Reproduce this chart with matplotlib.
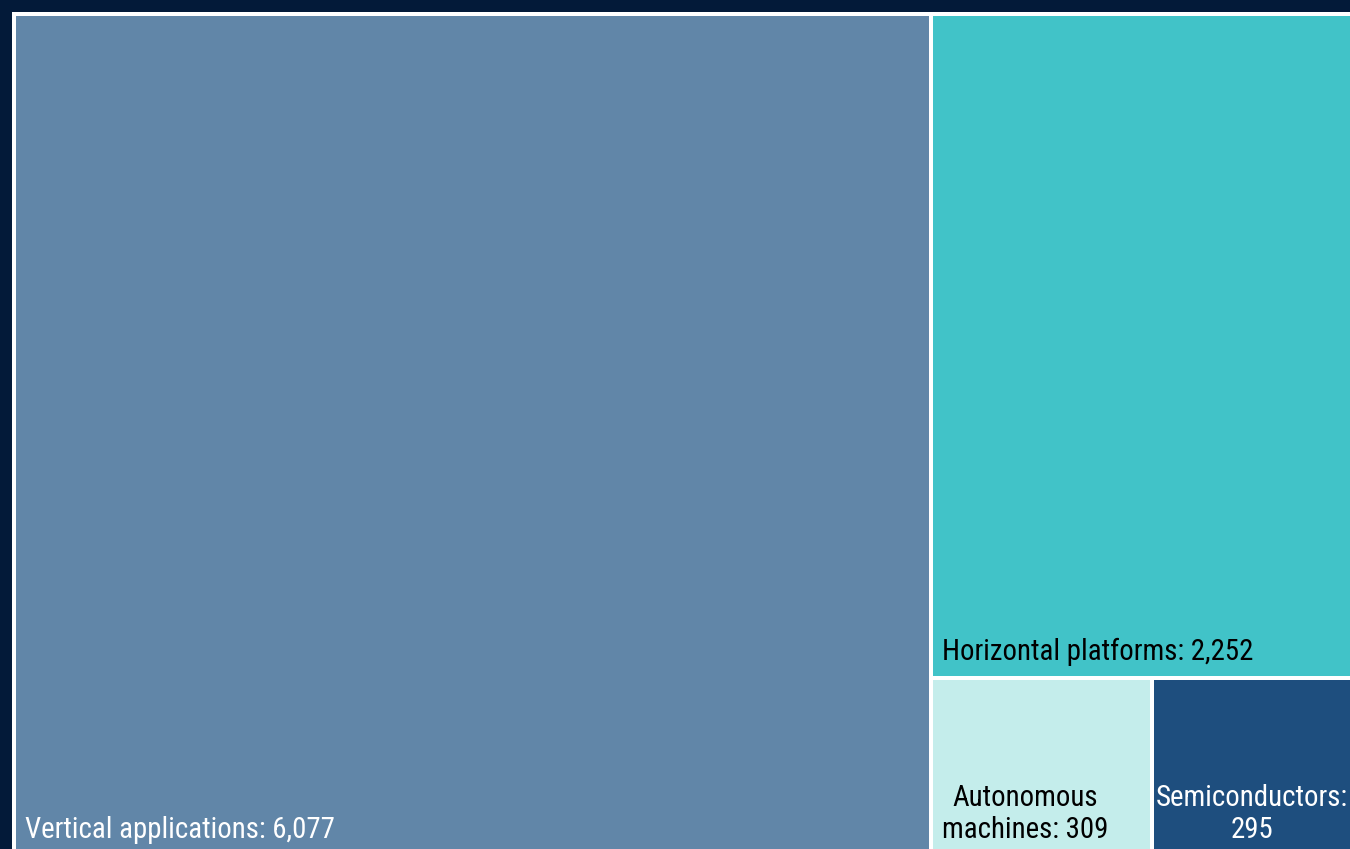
import matplotlib
matplotlib.use('Agg')
import matplotlib.pyplot as plt
from matplotlib import font_manager
from matplotlib.patches import Rectangle

labels = ['Vertical applications', 'Horizontal platforms', 'Autonomous machines', 'Semiconductors']
values = [6077, 2252, 309, 295]
colors = ['#6186a8', '#41c3c8', '#c4edeb', '#1e4e7e']
text_colors = ['white', 'black', 'black', 'white']
texts = ['Vertical applications: 6,077', 'Horizontal platforms: 2,252',
         'Autonomous\nmachines: 309', 'Semiconductors:\n295']

# pick a condensed font if one is around
names = sorted({f.name for f in font_manager.fontManager.ttflist})
font = 'Roboto'
for cand in ['Roboto Condensed', 'Liberation Sans Narrow', 'DejaVu Sans Condensed']:
    if cand in names:
        font = cand
        break
plt.rcParams['font.family'] = [font, 'DejaVu Sans']

W, H = 1350, 849
fig = plt.figure(figsize=(W / 100, H / 100), dpi=100, facecolor='#031a39')
ax = fig.add_axes([0, 0, 1, 1])
ax.set_xlim(0, W)
ax.set_ylim(H, 0)
ax.axis('off')

# treemap area (runs off the right and bottom edges like the original)
x0, y0, x1, y1 = 14, 14, 1362, 856
total = sum(values)

# first item takes a full-height column, the rest stack in the right column
xa = x0 + (x1 - x0) * values[0] / total
rest = sum(values[1:])
yb = y0 + (y1 - y0) * values[1] / rest
xc = xa + (x1 - xa) * values[2] / (values[2] + values[3])
rects = [(x0, y0, xa, y1), (xa, y0, x1, yb), (xa, yb, xc, y1), (xc, yb, x1, y1)]

fsize = 20.8 if font != 'Roboto' else 17
txt_objs = []
for (a, b, c, d), col, tc, t in zip(rects, colors, text_colors, texts):
    ax.add_patch(Rectangle((a, b), c - a, d - b, facecolor=col,
                           edgecolor='white', linewidth=2.88))
    txt_objs.append(ax.text(a + 11, d - 18, t, color=tc, fontsize=fsize, ha='left',
                            va='baseline', multialignment='center', linespacing=1.17))

# keep labels inside the picture (nudge left if they run past the right edge)
fig.canvas.draw()
r = fig.canvas.get_renderer()
for tobj in txt_objs:
    bb = tobj.get_window_extent(r)
    over = bb.x1 - (W - 2)
    if over > 0:
        x, y = tobj.get_position()
        tobj.set_position((x - over, y))

fig.savefig('out.png', dpi=100, facecolor=fig.get_facecolor())
